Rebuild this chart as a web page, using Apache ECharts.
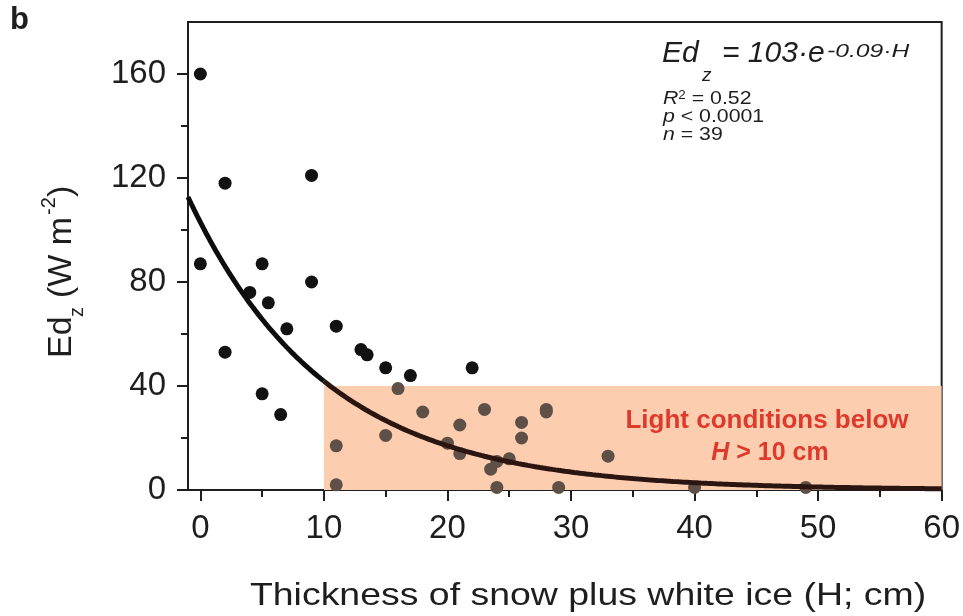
<!DOCTYPE html>
<html>
<head>
<meta charset="utf-8">
<script src="https://cdn.jsdelivr.net/npm/echarts@6/dist/echarts.min.js"></script>
<style>
  html, body { margin: 0; padding: 0; background: #fff; }
  #chart { width: 963px; height: 616px; }
</style>
</head>
<body>
<div id="chart"></div>
<script>
// Snow + white ice thickness H (cm) and under-ice irradiance Ed_z (W m^-2)
const thicknessH = [0, 0, 2, 2, 4, 5, 5.5, 5, 7, 6.5, 9, 9, 11, 11, 11, 13, 13.5, 15, 15, 17,
  16, 18, 22, 20, 21, 21, 23, 23.5, 24, 25, 24, 26, 26, 28, 28, 29, 33, 40, 49];
const irradianceEd = [160, 87, 118, 53, 76, 87, 72, 37, 62, 29, 121, 80, 63, 17, 2, 54, 52, 47, 21, 44,
  39, 30, 47, 18, 25, 14, 31, 8, 11, 12, 1, 26, 20, 31, 30, 1, 13, 1, 1];

// Exponential fit Ed_z = A * exp(k * H)
const fitA = 103;
const fitK = -0.09;

// Tick values
const xMajorTicks = [0, 10, 20, 30, 40, 50, 60];
const xMinorTicks = [5, 15, 25, 35, 45, 55];
const yMajorTicks = [0, 40, 80, 120, 160];
const yMinorTicks = [20, 60, 100, 140];

// Shaded region: H > 10 cm, Ed below 40
const regionH = [10, 60];
const regionEd = [0, 40];

function fitPoints(h0, h1) {
  const pts = [];
  for (let h = h0; h <= h1 + 1e-9; h += 0.25) pts.push([h, fitA * Math.exp(fitK * h)]);
  return pts;
}
const fitOpen = fitPoints(-1, regionH[0]);
const fitShaded = fitPoints(regionH[0], 60);

const inRegion = (h, e) => h >= regionH[0] && e <= regionEd[1];
const scatterData = thicknessH.map((h, i) => ({
  value: [h, irradianceEd[i]],
  itemStyle: { color: inRegion(h, irradianceEd[i]) ? '#5e4f47' : '#121212' }
}));

const FONT = '"Liberation Sans", Arial, sans-serif';
const INK = '#1e1e1e';
const RED = '#de3a2c';

const chart = echarts.init(document.getElementById('chart'), null, { renderer: 'canvas' });

const majorTick = { show: true, length: 11, lineStyle: { color: INK, width: 2 } };
const minorTick = { show: true, length: 7, lineStyle: { color: INK, width: 2 } };

chart.setOption({
  backgroundColor: '#ffffff',
  animation: false,
  grid: {
    left: 188, right: 15, top: 22, bottom: 126,
    show: true, borderColor: INK, borderWidth: 2, backgroundColor: 'transparent'
  },
  xAxis: [
    {
      type: 'value', min: -1, max: 60,
      axisLine: { show: true, onZero: false, lineStyle: { color: INK, width: 2 } },
      axisTick: Object.assign({ customValues: xMajorTicks }, majorTick),
      axisLabel: { customValues: xMajorTicks, fontFamily: FONT, fontSize: 33, color: INK, margin: 22 },
      splitLine: { show: false }
    },
    {
      type: 'value', min: -1, max: 60, position: 'bottom',
      axisLine: { show: false, onZero: false },
      axisTick: Object.assign({ customValues: xMinorTicks }, minorTick),
      axisLabel: { show: false },
      splitLine: { show: false }
    }
  ],
  yAxis: [
    {
      type: 'value', min: 0, max: 180,
      axisLine: { show: true, onZero: false, lineStyle: { color: INK, width: 2 } },
      axisTick: Object.assign({ customValues: yMajorTicks }, majorTick),
      axisLabel: { customValues: yMajorTicks, fontFamily: FONT, fontSize: 33, color: INK, margin: 22 },
      splitLine: { show: false }
    },
    {
      type: 'value', min: 0, max: 180, position: 'left',
      axisLine: { show: false, onZero: false },
      axisTick: Object.assign({ customValues: yMinorTicks }, minorTick),
      axisLabel: { show: false },
      splitLine: { show: false }
    }
  ],
  series: [
    {
      // shaded H > 10 cm region, drawn beneath the points
      name: 'region',
      type: 'scatter',
      z: 1,
      data: [],
      markArea: {
        silent: true,
        itemStyle: { color: '#fdcdb0', opacity: 1 },
        data: [[{ coord: [regionH[0], regionEd[0]] }, { coord: [regionH[1], regionEd[1]] }]]
      }
    },
    {
      name: 'Ed',
      type: 'scatter',
      z: 3,
      symbol: 'circle',
      symbolSize: 13,
      itemStyle: { opacity: 1 },
      data: scatterData
    },
    {
      name: 'fit',
      type: 'line',
      z: 4,
      showSymbol: false,
      data: fitOpen,
      lineStyle: { width: 5, color: '#0d0d0d' },
      itemStyle: { color: '#0d0d0d' }
    },
    {
      name: 'fit (shaded)',
      type: 'line',
      z: 4,
      showSymbol: false,
      data: fitShaded,
      lineStyle: { width: 5, color: '#2a1510' },
      itemStyle: { color: '#2a1510' }
    }
  ],
  graphic: [
    // panel letter
    { type: 'text', z: 100, left: 10, top: 5, style: { text: 'b', font: 'bold 31px ' + FONT, fill: INK } },
    // fit equation
    { type: 'text', z: 100, x: 662, y: 54, style: { text: 'Ed', font: 'italic 30px ' + FONT, fill: INK, verticalAlign: 'middle' } },
    { type: 'text', z: 100, x: 702, y: 76, style: { text: 'z', font: 'italic 19px ' + FONT, fill: INK, verticalAlign: 'middle' } },
    { type: 'text', z: 100, x: 722, y: 54, style: { text: '= 103·e', font: 'italic 30px ' + FONT, fill: INK, verticalAlign: 'middle' } },
    { type: 'text', z: 100, x: 827, y: 52, scaleX: 1.3, style: { text: '-0.09·H', font: 'italic 19px ' + FONT, fill: INK, verticalAlign: 'middle' } },
    // fit statistics
    {
      type: 'text', z: 100, x: 663, y: 99, scaleX: 1.12,
      style: {
        text: '{r|R}{s|2}{t| = 0.52}', verticalAlign: 'middle',
        rich: {
          r: { font: 'italic 19px ' + FONT, fill: INK },
          s: { font: '12px ' + FONT, fill: INK, verticalAlign: 'top', padding: [0, 0, 6, 0] },
          t: { font: '19px ' + FONT, fill: INK }
        }
      }
    },
    {
      type: 'text', z: 100, x: 663, y: 117, scaleX: 1.12,
      style: {
        text: '{i|p}{t| < 0.0001}', verticalAlign: 'middle',
        rich: { i: { font: 'italic 19px ' + FONT, fill: INK }, t: { font: '19px ' + FONT, fill: INK } }
      }
    },
    {
      type: 'text', z: 100, x: 663, y: 135, scaleX: 1.12,
      style: {
        text: '{i|n}{t| = 39}', verticalAlign: 'middle',
        rich: { i: { font: 'italic 19px ' + FONT, fill: INK }, t: { font: '19px ' + FONT, fill: INK } }
      }
    },
    // region annotation
    {
      type: 'text', z: 100, x: 767, y: 421, scaleX: 1.04,
      style: { text: 'Light conditions below', font: 'bold 25px ' + FONT, fill: RED, align: 'center', verticalAlign: 'middle' }
    },
    {
      type: 'text', z: 100, x: 770, y: 453,
      style: {
        text: '{i|H}{t| > 10 cm}', align: 'center', verticalAlign: 'middle',
        rich: {
          i: { font: 'bold italic 25px ' + FONT, fill: RED },
          t: { font: 'bold 25px ' + FONT, fill: RED }
        }
      }
    },
    // x-axis title
    {
      type: 'text', z: 100, x: 588, y: 596, scaleX: 1.17,
      style: { text: 'Thickness of snow plus white ice (H; cm)', font: '32px ' + FONT, fill: INK, align: 'center', verticalAlign: 'middle' }
    },
    // y-axis title (rotated to read bottom-to-top)
    {
      type: 'group', z: 100, x: 62, y: 358, rotation: Math.PI / 2,
      children: [
        { type: 'text', x: 0, y: 0, style: { text: 'Ed', font: '34px ' + FONT, fill: INK, verticalAlign: 'middle' } },
        { type: 'text', x: 41, y: 15, style: { text: 'z', font: '20px ' + FONT, fill: INK, verticalAlign: 'middle' } },
        { type: 'text', x: 60, y: 0, style: { text: '(W m', font: '34px ' + FONT, fill: INK, verticalAlign: 'middle' } },
        { type: 'text', x: 143, y: -13, style: { text: '-2', font: '20px ' + FONT, fill: INK, verticalAlign: 'middle' } },
        { type: 'text', x: 161, y: 0, style: { text: ')', font: '34px ' + FONT, fill: INK, verticalAlign: 'middle' } }
      ]
    }
  ]
});
</script>
</body>
</html>
